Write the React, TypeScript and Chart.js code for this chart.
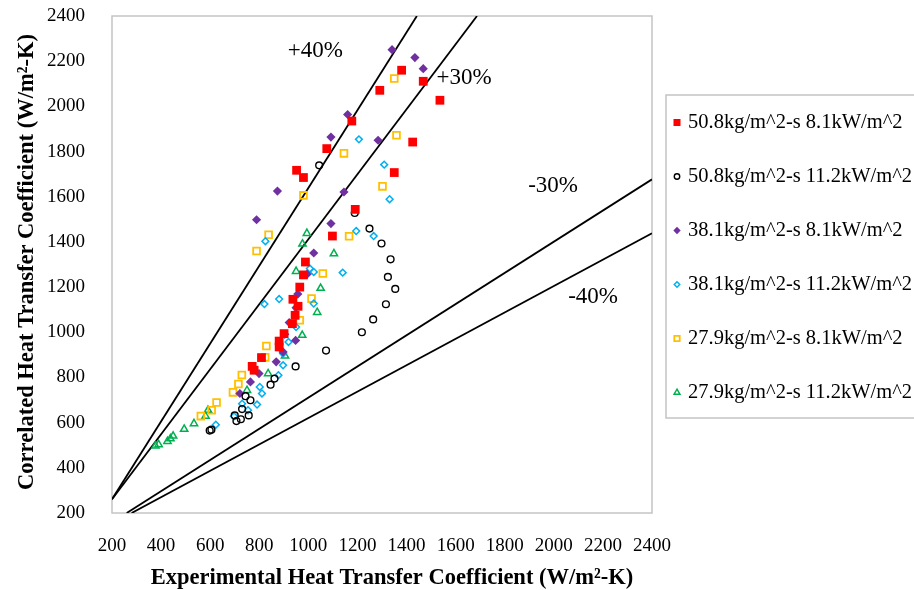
import React, { useEffect, useRef } from 'react';
import { Chart, registerables } from 'chart.js';

Chart.register(...registerables);

const FONT = "'Liberation Serif', 'Times New Roman', serif";

// ---- Data (experimental vs correlated heat transfer coefficient, W/m2-K) ----
const seriesLabels = [
  '50.8kg/m^2-s 8.1kW/m^2',
  '50.8kg/m^2-s 11.2kW/m^2',
  '38.1kg/m^2-s 8.1kW/m^2',
  '38.1kg/m^2-s 11.2kW/m^2',
  '27.9kg/m^2-s 8.1kW/m^2',
  '27.9kg/m^2-s 11.2kW/m^2',
];

const expG508q81 = [1380, 1468, 1291, 1536, 1177, 1075, 1425, 952, 980, 1350, 1191, 1098, 988, 980, 965, 937, 958, 946, 935, 901, 881, 881, 809, 771, 779];
const corG508q81 = [2160, 2111, 2071, 2027, 1935, 1813, 1842, 1717, 1685, 1707, 1544, 1426, 1311, 1254, 1200, 1146, 1115, 1075, 1038, 994, 961, 935, 888, 849, 832];

const expG508q112 = [1044, 1189, 1249, 1298, 1335, 1324, 1354, 1316, 1264, 1218, 1072, 948, 862, 846, 744, 764, 730, 757, 700, 707, 725, 605, 598];
const corG508q112 = [1739, 1528, 1459, 1393, 1323, 1245, 1192, 1124, 1057, 1000, 919, 849, 795, 768, 717, 699, 660, 632, 632, 607, 615, 569, 565];

const expG381q81 = [1341, 1434, 1468, 1160, 1092, 1284, 874, 1145, 789, 1092, 1022, 995, 957, 950, 922, 904, 948, 897, 869, 799, 764, 721];
const corG381q81 = [2251, 2216, 2167, 1964, 1864, 1850, 1625, 1621, 1498, 1481, 1351, 1257, 1169, 1109, 1043, 991, 964, 913, 869, 817, 780, 729];

const expG381q112 = [1206, 1309, 1331, 825, 1195, 1266, 1006, 1022, 1140, 881, 821, 1022, 950, 919, 897, 897, 878, 802, 811, 791, 730, 754, 697, 623];
const corG381q112 = [1854, 1742, 1589, 1403, 1448, 1426, 1282, 1267, 1264, 1147, 1125, 1127, 1023, 957, 906, 854, 810, 758, 729, 680, 684, 655, 628, 591];

const expG279q81 = [1350, 1359, 1145, 1302, 980, 838, 789, 1166, 1059, 1013, 965, 829, 824, 729, 715, 693, 626, 606, 562];
const corG279q81 = [2123, 1872, 1792, 1646, 1606, 1432, 1360, 1425, 1260, 1149, 1053, 939, 889, 811, 771, 734, 689, 655, 629];

const expG279q112 = [994, 976, 1104, 950, 1050, 1036, 975, 905, 836, 750, 591, 581, 534, 494, 449, 438, 426, 390, 377];
const corG279q112 = [1438, 1391, 1348, 1270, 1195, 1088, 987, 895, 817, 743, 655, 629, 596, 571, 541, 529, 517, 503, 497];

// deviation band lines (end points, data units)
const bandLabels = ['+40%', '+30%', '-30%', '-40%'];
const bandX = [[200, 1442], [200, 1687], [260, 2400], [280, 2400]];
const bandY = [[261, 2400], [261, 2400], [200, 1677], [200, 1438]];
// where each band label sits (data units)
const bandLabelX = [1028, 1634, 1997, 2160];
const bandLabelY = [2244, 2124, 1646, 1155];

const xTitle = 'Experimental Heat Transfer Coefficient (W/m²-K)';
const yTitle = 'Correlated Heat Transfer Coefficient (W/m²-K)';

const axisMin = 200;
const axisMax = 2400;
const axisStep = 200;

const toPoints = (xs: number[], ys: number[]) => xs.map((x, i) => ({ x, y: ys[i] }));

type Sty = { style: string; r: number; fill: string | null; stroke: string | null; lw: number };
const styles: Sty[] = [
  { style: 'rect', r: 6.2, fill: '#FF0000', stroke: null, lw: 0 },
  { style: 'circle', r: 3.4, fill: null, stroke: '#000000', lw: 1.4 },
  { style: 'rectRot', r: 4.6, fill: '#7030A0', stroke: null, lw: 0 },
  { style: 'rectRot', r: 3.4, fill: null, stroke: '#00B0F0', lw: 1.5 },
  { style: 'rect', r: 4.8, fill: null, stroke: '#FFC000', lw: 1.8 },
  { style: 'triangle', r: 4.2, fill: null, stroke: '#00B050', lw: 1.5 },
];

const seriesData = [
  toPoints(expG508q81, corG508q81),
  toPoints(expG508q112, corG508q112),
  toPoints(expG381q81, corG381q81),
  toPoints(expG381q112, corG381q112),
  toPoints(expG279q81, corG279q81),
  toPoints(expG279q112, corG279q112),
];

function drawMarker(ctx: CanvasRenderingContext2D, s: Sty, x: number, y: number, scale: number) {
  const r = s.r * scale;
  ctx.beginPath();
  if (s.style === 'rect') {
    const h = r * Math.SQRT1_2;
    ctx.rect(x - h, y - h, 2 * h, 2 * h);
  } else if (s.style === 'circle') {
    ctx.arc(x, y, r, 0, Math.PI * 2);
  } else if (s.style === 'rectRot') {
    ctx.moveTo(x, y - r);
    ctx.lineTo(x + r, y);
    ctx.lineTo(x, y + r);
    ctx.lineTo(x - r, y);
    ctx.closePath();
  } else if (s.style === 'triangle') {
    ctx.moveTo(x, y - r);
    ctx.lineTo(x + r * Math.sin(Math.PI / 3), y + r / 2);
    ctx.lineTo(x - r * Math.sin(Math.PI / 3), y + r / 2);
    ctx.closePath();
  }
  if (s.fill) {
    ctx.fillStyle = s.fill;
    ctx.fill();
  }
  if (s.stroke) {
    ctx.strokeStyle = s.stroke;
    ctx.lineWidth = s.lw;
    ctx.stroke();
  }
}

const framePlugin = {
  id: 'frame',
  beforeDatasetsDraw(chart: any) {
    const { ctx, chartArea: a } = chart;
    ctx.save();
    ctx.strokeStyle = '#C4C4C4';
    ctx.lineWidth = 1.5;
    ctx.strokeRect(a.left, a.top, a.right - a.left, a.bottom - a.top);
    ctx.restore();
  },
};

const textPlugin = {
  id: 'texts',
  afterDraw(chart: any) {
    const { ctx } = chart;
    const xs = chart.scales.x;
    const ys = chart.scales.y;
    ctx.save();
    ctx.fillStyle = '#000';
    // band labels
    ctx.font = `23px ${FONT}`;
    ctx.textAlign = 'center';
    ctx.textBaseline = 'middle';
    bandLabels.forEach((t, i) => {
      ctx.fillText(t, xs.getPixelForValue(bandLabelX[i]), ys.getPixelForValue(bandLabelY[i]));
    });
    // axis titles
    ctx.font = `bold 22.5px ${FONT}`;
    ctx.fillText(xTitle, 392, 578);
    ctx.save();
    ctx.translate(27, 262);
    ctx.rotate(-Math.PI / 2);
    ctx.fillText(yTitle, 0, 0);
    ctx.restore();
    // legend
    const left = 666, top = 95, bottom = 418;
    ctx.strokeStyle = '#C4C4C4';
    ctx.lineWidth = 1.5;
    ctx.strokeRect(left, top, chart.width + 20 - left, bottom - top);
    ctx.font = `20.5px ${FONT}`;
    ctx.textAlign = 'left';
    seriesLabels.forEach((lab, i) => {
      const y = 122.5 + i * 54;
      drawMarker(ctx, styles[i], 677, y, 0.8);
      ctx.fillStyle = '#000';
      ctx.fillText(lab, 688, y);
    });
    ctx.restore();
  },
};

export default function App() {
  const ref = useRef<HTMLCanvasElement | null>(null);
  useEffect(() => {
    if (!ref.current) return;
    const datasets: any[] = seriesData.map((d, i) => ({
      label: seriesLabels[i],
      data: d,
      pointStyle: styles[i].style,
      pointRadius: styles[i].r,
      pointBackgroundColor: styles[i].fill ?? 'rgba(0,0,0,0)',
      pointBorderColor: styles[i].stroke ?? styles[i].fill,
      pointBorderWidth: styles[i].lw,
      showLine: false,
    }));
    bandLabels.forEach((lab, i) => {
      datasets.push({
        label: lab,
        data: toPoints(bandX[i], bandY[i]),
        showLine: true,
        borderColor: '#000',
        borderWidth: 1.8,
        pointRadius: 0,
        fill: false,
      });
    });
    const fmt = (v: any) => String(v);
    const chart = new Chart(ref.current, {
      type: 'scatter',
      data: { datasets },
      options: {
        responsive: false,
        animation: false,
        devicePixelRatio: 1,
        layout: { padding: { left: 0, top: 16, right: 262, bottom: 0 } },
        plugins: { legend: { display: false }, tooltip: { enabled: false } },
        scales: {
          x: {
            type: 'linear',
            min: axisMin,
            max: axisMax,
            grid: { display: false, drawTicks: false },
            border: { display: false },
            ticks: { stepSize: axisStep, color: '#000', font: { family: FONT, size: 19 }, padding: 22, maxRotation: 0, autoSkip: false, callback: fmt },
            afterFit: (s: any) => { s.height = 77; },
          },
          y: {
            type: 'linear',
            min: axisMin,
            max: axisMax,
            grid: { display: false, drawTicks: false },
            border: { display: false },
            ticks: { stepSize: axisStep, color: '#000', font: { family: FONT, size: 19 }, padding: 27, autoSkip: false, callback: fmt },
            afterFit: (s: any) => { s.width = 112; s.paddingTop = 0; s.paddingBottom = 0; },
          },
        },
      },
      plugins: [framePlugin, textPlugin],
    });
    return () => chart.destroy();
  }, []);
  return (
    <div style={{ position: 'fixed', left: 0, top: 0, width: 914, height: 590, background: '#fff' }}>
      <canvas ref={ref} width={914} height={590} style={{ display: 'block' }} />
    </div>
  );
}
